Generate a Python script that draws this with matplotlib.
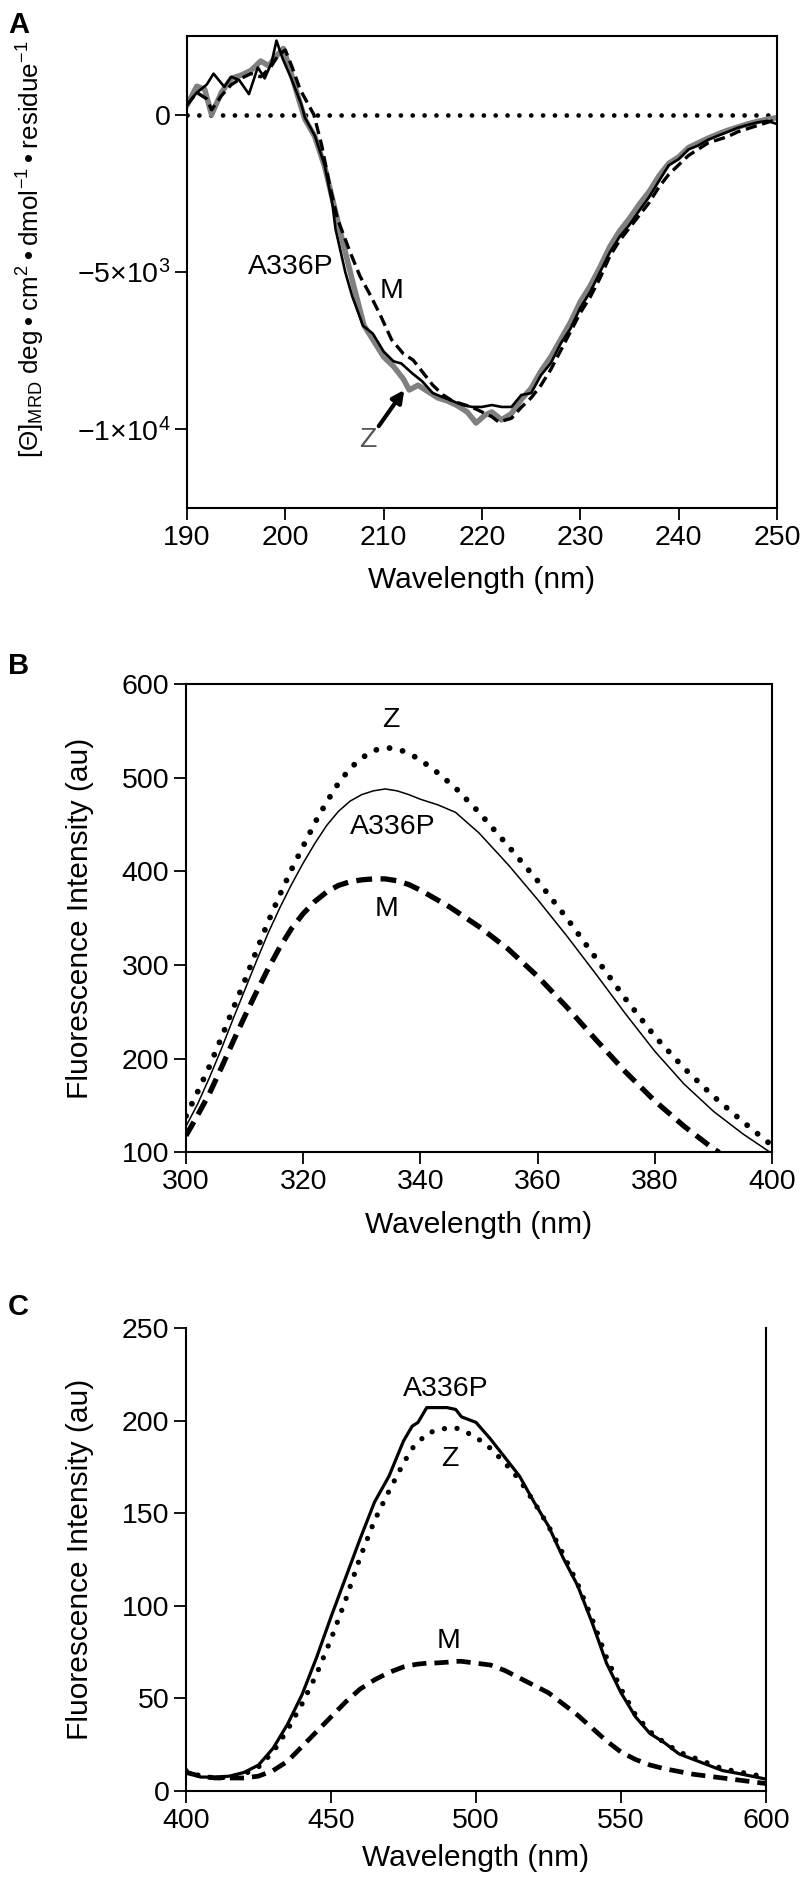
import matplotlib
matplotlib.use("Agg")
import matplotlib.pyplot as plt

# ---------------- data ----------------
# Panel A: CD spectra
cd_wl_a336p = [190, 190.5, 191, 192, 192.7, 193.8, 194.5, 195.3, 196.3, 197.2, 197.9, 198.6, 199.1, 199.7, 200.6,
               201.6, 202, 203, 204, 204.8, 205.1, 206.1, 206.8, 207.9, 208.9, 210, 211, 211.8, 212.9, 213.9,
               215, 216, 217, 218, 219, 220, 221, 222, 223, 224, 225, 226, 227, 228, 229, 230, 231, 232, 233,
               234, 235, 236, 237, 238, 239, 240, 241, 242, 243, 244, 245, 246, 247, 248, 249, 250]
cd_a336p = [300, 500, 700, 950, 1300, 880, 1200, 1100, 650, 1500, 1150, 1650, 2350, 1800, 1150,
            350, -100, -670, -1610, -2870, -3630, -5010, -5770, -6710, -6960, -7530, -7840, -7910, -8220, -8470,
            -8850, -8980, -9100, -9230, -9290, -9290, -9230, -9290, -9290, -8910, -8850, -8280, -7900, -7280,
            -6800, -6140, -5640, -5010, -4380, -3880, -3500, -3050, -2620, -2110, -1610, -1420, -1110, -980,
            -800, -670, -550, -420, -330, -250, -200, -300]

cd_wl_z = [190, 191, 191.8, 192.5, 193.5, 194.5, 195.5, 196.5, 197.5, 198.3, 199.2, 199.8, 200.5, 201.5,
           202, 203, 204, 205, 206, 207, 208, 209, 210, 211, 212, 212.6, 213.5, 214.5, 215.5, 216.5, 217.5,
           218.5, 219.4, 220.3, 221, 222, 223, 224, 225, 226, 227, 228, 229, 230, 231, 232, 233, 234, 235,
           236, 237, 238, 239, 240, 241, 242, 243, 244, 245, 246, 247, 248, 249, 250]
cd_z = [300, 900, 800, 0, 700, 1150, 1250, 1400, 1700, 1550, 1900, 2100, 1400, 350,
        -150, -700, -1650, -2950, -4250, -5500, -6700, -7200, -7700, -8000, -8400, -8750, -8600, -8800,
        -9000, -9100, -9250, -9450, -9800, -9550, -9450, -9700, -9500, -9050, -8700, -8150, -7700, -7150,
        -6600, -5950, -5450, -4850, -4200, -3700, -3300, -2850, -2450, -1950, -1550, -1350, -1050, -900,
        -750, -620, -500, -400, -300, -220, -150, -100]

cd_wl_m = [190, 191, 192, 192.5, 193.5, 194.5, 195.5, 196.5, 197.5, 198.5, 199.3, 200, 200.7, 201.5, 202.9,
           203.7, 204.5, 205.3, 206.6, 207.6, 208.7, 209.7, 210.8, 212, 213, 214, 215, 216, 217, 218, 219,
           220, 221, 221.7, 223, 224, 225, 226, 227, 228, 229, 230, 231, 232, 233, 234, 235, 236, 237, 238,
           239, 240, 241, 242, 243, 244, 245, 246, 247, 248, 249, 250]
cd_m = [300, 700, 500, 150, 600, 950, 1150, 1300, 1200, 1500, 1900, 2050, 1500, 800, 0,
        -980, -2240, -3310, -4380, -5140, -5770, -6400, -7150, -7600, -7800, -8200, -8600, -8900, -9100,
        -9200, -9300, -9450, -9600, -9770, -9650, -9300, -9000, -8600, -8100, -7500, -6900, -6300, -5800,
        -5200, -4500, -4000, -3600, -3200, -2800, -2300, -1900, -1600, -1300, -1100, -900, -800, -700,
        -550, -450, -350, -250, -150]

# Panel B: intrinsic fluorescence
fl_wl_b = [300, 302, 304, 306, 308, 310, 312, 314, 316, 318, 320, 322, 324, 326, 328, 330, 332, 334,
           336, 338, 340, 343, 346, 350, 355, 360, 365, 370, 375, 380, 385, 390, 395, 399.5]
fl_b_z = [139, 165, 192, 222, 253, 283, 315, 346, 375, 402, 427, 452, 474, 494, 510, 521, 529, 532,
          531, 526, 519, 505, 489, 463, 427, 390, 350, 307, 264, 224, 190, 160, 133, 110]
fl_b_a336p = [128, 152, 180, 210, 242, 273, 304, 334, 361, 386, 409, 430, 449, 464, 475, 482, 486, 488,
              486, 482, 477, 471, 463, 441, 407, 370, 331, 290, 248, 208, 173, 144, 120, 101]
fl_wl_b_m = [300, 302, 304, 306, 308, 310, 312, 314, 316, 318, 320, 322, 324, 326, 328, 330, 332, 334,
             336, 338, 340, 345, 350, 355, 360, 365, 370, 375, 380, 385, 390, 391]
fl_b_m = [118, 140, 163, 190, 218, 245, 271, 296, 319, 339, 355, 368, 378, 385, 389, 391, 392, 392,
          390, 386, 380, 362, 341, 317, 288, 255, 220, 186, 155, 128, 104, 100]

# Panel C: extrinsic fluorescence
fl_wl_c = [400, 405, 410, 415, 420, 425, 430, 435, 440, 445, 450, 455, 460, 465, 470, 475, 478, 480,
           483, 485, 490, 493, 495, 500, 505, 510, 515, 520, 525, 530, 535, 540, 545, 550, 555, 560,
           565, 570, 575, 580, 585, 590, 595, 600]
fl_c_a336p = [10.7, 7.5, 7.5, 8, 10, 14, 23, 36, 52, 72, 94, 115, 136, 156, 170, 189, 197, 199,
              207, 207, 207, 206, 202, 199, 190, 180, 170, 156, 143, 126, 111, 91, 69, 53, 40, 31,
              26, 20, 17, 14, 11, 9.6, 8, 6.4]
fl_c_z = [11, 8, 7, 7.5, 9, 13, 21, 33, 47, 63, 82, 103, 126, 146, 162, 177, 185, 188,
          193, 194, 196, 196, 195, 191, 185, 177, 168, 156, 143, 128, 112, 93, 72, 55, 41, 32,
          26, 21, 18, 15, 12, 10.5, 9, 7.5]
fl_c_m = [10, 8, 7, 7, 7, 8, 11, 16, 24, 32, 40, 48, 55, 60, 64, 67, 68, 68.5,
          69, 69, 69.5, 70, 70, 69, 68, 65, 61, 57, 53, 47, 41, 34, 27, 21, 17, 14,
          12, 10.5, 9, 8, 7, 6, 5, 4]

ticks_a_x = [190, 200, 210, 220, 230, 240, 250]
ticks_a_y = [0, -5000, -10000]
ticklabels_a_y = ['0', '\u22125\u00d710$^{3}$', '\u22121\u00d710$^{4}$']
ticks_b_x = [300, 320, 340, 360, 380, 400]
ticks_b_y = [100, 200, 300, 400, 500, 600]
ticks_c_x = [400, 450, 500, 550, 600]
ticks_c_y = [0, 50, 100, 150, 200, 250]

# ---------------- fonts ----------------
plt.rcParams['font.family'] = ['Liberation Sans', 'DejaVu Sans']
plt.rcParams['mathtext.fontset'] = 'custom'
plt.rcParams['mathtext.rm'] = 'Liberation Sans'
plt.rcParams['mathtext.it'] = 'Liberation Sans'
plt.rcParams['mathtext.default'] = 'regular'

FS_TICK = 20.5
FS_LAB = 21.5
FS_ANN = 20.5
GRAY = '#808080'
W, H = 806, 1889

fig = plt.figure(figsize=(8.06, 18.89), dpi=100)


def style(ax, top=True):
    ax.tick_params(direction='out', length=8.5, width=1.3, labelsize=FS_TICK, pad=3.5)
    for s in ['left', 'bottom', 'right', 'top']:
        ax.spines[s].set_linewidth(1.5)
    ax.spines['top'].set_visible(top)
    ax.tick_params(top=False, right=False)


# ---------------- Panel A ----------------
axA = fig.add_axes([0.232, 0.7311, 0.732, 0.2499])
axA.plot([190, 250], [0, 0], color='black', lw=3.4, linestyle=(0, (0.01, 2.5)),
         dash_capstyle='round')
axA.plot(cd_wl_z, cd_z, color=GRAY, lw=4.0, solid_joinstyle='round')
axA.plot(cd_wl_m, cd_m, color='black', lw=2.4, linestyle=(0, (3.4, 1.7)))
axA.plot(cd_wl_a336p, cd_a336p, color='black', lw=1.9)
axA.set_xlim(190, 250)
axA.set_ylim(-12500, 2500)
axA.set_xticks(ticks_a_x)
axA.set_yticks(ticks_a_y)
axA.set_yticklabels(ticklabels_a_y)
style(axA)
axA.set_xlabel('Wavelength (nm)', fontsize=FS_LAB, va='center')
axA.xaxis.set_label_coords(0.5, -0.153)
ylabA = fig.text(31 / W, 1 - 249 / H,
                 '[$\\Theta$]$_{MRD}$ deg\u2009\u2022\u2009cm$^{2}$\u2009\u2022\u2009dmol$^{\u22121}$\u2009\u2022\u2009residue$^{\u22121}$',
                 fontsize=18.7, rotation=90, ha='center', va='center')
axA.text(200.6, -4850, 'A336P', fontsize=FS_ANN, ha='center', va='center')
axA.text(210.8, -5600, 'M', fontsize=FS_ANN, ha='center', va='center')
axA.text(208.4, -10350, 'Z', fontsize=FS_ANN, ha='center', va='center', color='#555555')
axA.annotate('', xy=(212.1, -8750), xytext=(209.5, -9900),
             arrowprops=dict(arrowstyle='-|>', lw=3, color='black', mutation_scale=18,
                             shrinkA=0, shrinkB=0))
fig.text(8 / W, 1 - 33 / H, 'A', fontsize=21, fontweight='bold', ha='left', va='baseline')

# ---------------- Panel B ----------------
axB = fig.add_axes([0.2308, 0.3899, 0.727, 0.248])
axB.plot(fl_wl_b, fl_b_z, color='black', lw=4.2, linestyle=(0, (0.01, 2.3)), dash_capstyle='round')
axB.plot(fl_wl_b, fl_b_a336p, color='black', lw=1.1)
axB.plot(fl_wl_b_m, fl_b_m, color='black', lw=3.8, linestyle=(0, (3.0, 1.6)))
axB.set_xlim(300, 400)
axB.set_ylim(100, 600)
axB.set_xticks(ticks_b_x)
axB.set_yticks(ticks_b_y)
style(axB)
axB.set_xlabel('Wavelength (nm)', fontsize=FS_LAB, va='center')
axB.xaxis.set_label_coords(0.5, -0.154)
axB.set_ylabel('Fluorescence Intensity (au)', fontsize=FS_LAB, va='center')
axB.yaxis.set_label_coords(-0.181, 0.5)
axB.text(335, 562, 'Z', fontsize=FS_ANN, ha='center', va='center')
axB.text(335.2, 447, 'A336P', fontsize=FS_ANN, ha='center', va='center')
axB.text(334.2, 360, 'M', fontsize=FS_ANN, ha='center', va='center')
fig.text(8 / W, 1 - 674 / H, 'B', fontsize=21, fontweight='bold', ha='left', va='baseline')

# ---------------- Panel C ----------------
axC = fig.add_axes([0.2308, 0.0519, 0.7196, 0.2451])
axC.plot(fl_wl_c, fl_c_z, color='black', lw=3.8, linestyle=(0, (0.01, 2.4)), dash_capstyle='round')
axC.plot(fl_wl_c, fl_c_a336p, color='black', lw=2.3)
axC.plot(fl_wl_c, fl_c_m, color='black', lw=3.4, linestyle=(0, (3.0, 1.7)))
axC.set_xlim(400, 600)
axC.set_ylim(0, 250)
axC.set_xticks(ticks_c_x)
axC.set_yticks(ticks_c_y)
style(axC, top=False)
axC.set_xlabel('Wavelength (nm)', fontsize=FS_LAB, va='center')
axC.xaxis.set_label_coords(0.5, -0.145)
axC.set_ylabel('Fluorescence Intensity (au)', fontsize=FS_LAB, va='center')
axC.yaxis.set_label_coords(-0.183, 0.5)
axC.text(489.6, 217, 'A336P', fontsize=FS_ANN, ha='center', va='center')
axC.text(491, 179, 'Z', fontsize=FS_ANN, ha='center', va='center')
axC.text(490.5, 81, 'M', fontsize=FS_ANN, ha='center', va='center')
fig.text(8 / W, 1 - 1315 / H, 'C', fontsize=21, fontweight='bold', ha='left', va='baseline')

fig.savefig('out.png', dpi=100)
